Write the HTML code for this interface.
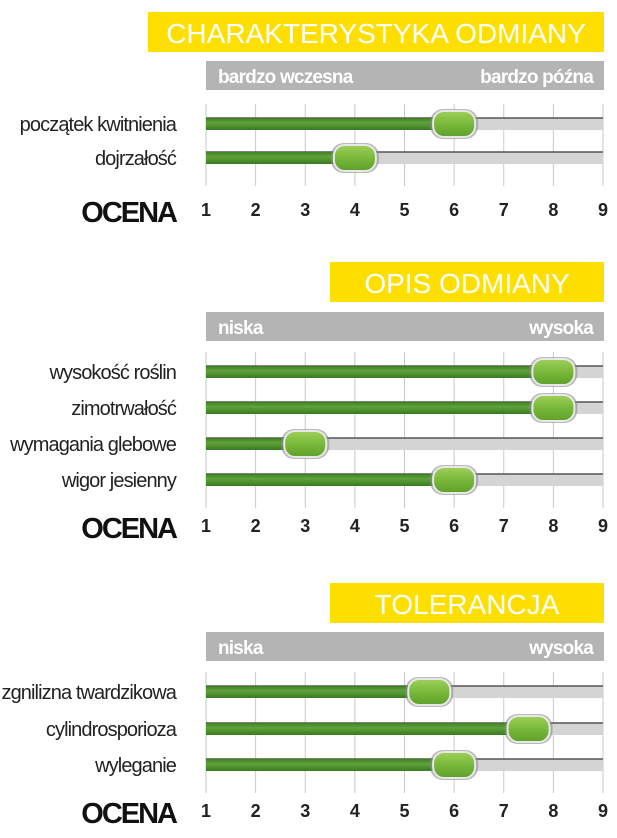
<!DOCTYPE html>
<html><head><meta charset="utf-8">
<style>
body{margin:0;background:#fff;width:617px;height:838px;overflow:hidden;font-family:"Liberation Sans",sans-serif}
svg{display:block}
</style></head>
<body>
<svg id="chart" width="617" height="838"></svg>
<script>
const ticks=["1","2","3","4","5","6","7","8","9"];
const s1Title="CHARAKTERYSTYKA ODMIANY";
const s1Scale=["bardzo wczesna","bardzo późna"];
const s1Labels=["początek kwitnienia","dojrzałość"];
const s1Values=[6,4];
const s2Title="OPIS ODMIANY";
const s2Scale=["niska","wysoka"];
const s2Labels=["wysokość roślin","zimotrwałość","wymagania glebowe","wigor jesienny"];
const s2Values=[8,8,3,6];
const s3Title="TOLERANCJA";
const s3Scale=["niska","wysoka"];
const s3Labels=["zgnilizna twardzikowa","cylindrosporioza","wyleganie"];
const s3Values=[5.5,7.5,6];

const NS="http://www.w3.org/2000/svg";
const svg=document.getElementById('chart');
const defs=document.createElementNS(NS,'defs');
defs.innerHTML='<linearGradient id="gk" x1="0" y1="0" x2="0" y2="1"><stop offset="0" stop-color="#9fd05a"/><stop offset="0.5" stop-color="#78b83a"/><stop offset="1" stop-color="#5e9f2a"/></linearGradient><linearGradient id="gg" x1="0" y1="0" x2="0" y2="1"><stop offset="0" stop-color="#3f7f22"/><stop offset="0.4" stop-color="#5fa33a"/><stop offset="1" stop-color="#3a7a20"/></linearGradient>';
svg.appendChild(defs);
const x0=206,x1=603;
function xs(v){return x0+(v-1)*(x1-x0)/8;}
function mk(tag,attrs,parent){const e=document.createElementNS(NS,tag);for(const k in attrs)e.setAttribute(k,attrs[k]);(parent||svg).appendChild(e);return e;}
function txt(s,attrs,parent){const e=mk('text',attrs,parent);e.textContent=s;return e;}

function section(title,tx,ty,scale,gy,labels,values,rows,tickY){
  const g=mk('g',{});
  
  
  const tb=mk('rect',{x:tx,y:ty,width:604-tx,height:40,fill:'#ffdf00'},g);
  
  
  const tt=txt(title,{x:(tx+604)/2,y:ty+31,'text-anchor':'middle',fill:'#fff','font-size':28},g);
  
  
  const sb=mk('rect',{x:206,y:gy,width:398,height:29,fill:'#b4b4b4'},g);
  
  
  const sl=txt(scale[0],{x:218,y:gy+22,fill:'#fff','font-size':19,'font-weight':'bold',style:'letter-spacing:-0.8px'},g);
  
  
  const sr=txt(scale[1],{x:593,y:gy+22,fill:'#fff','font-size':19,'font-weight':'bold','text-anchor':'end',style:'letter-spacing:-0.8px'},g);
  
  
  const top=rows[0]-20,bot=rows[rows.length-1]+28;
  ticks.forEach((t,i)=>{
    const x=xs(i+1);
    const gl=mk('line',{x1:x,x2:x,y1:top,y2:bot,stroke:'#c8c8c8','stroke-width':1},g);
    
    
    const tl=txt(t,{x:x,y:tickY+1,'text-anchor':'middle','font-size':18,'font-weight':'bold',fill:'#222'},g);
    
    
  });
  const oc=txt('OCENA',{x:176,y:tickY+7,'text-anchor':'end','font-size':29,'font-weight':'bold',fill:'#111',style:'letter-spacing:-2px'},g);
  
  
  labels.forEach((l,i)=>{
    const y=rows[i],v=values[i],kx=xs(v);
    const lb=txt(l,{x:176,y:y+7,'text-anchor':'end','font-size':20,fill:'#222',style:'letter-spacing:-0.9px'},g);
    
    
    const tr=mk('rect',{x:x0,y:y-6,width:x1-x0,height:12,fill:'#d4d4d4'},g);
    
    
    const tl=mk('line',{x1:x0,x2:x1,y1:y-6,y2:y-6,stroke:'#555','stroke-width':1.5},g);
    
    
    const gr=mk('rect',{x:x0,y:y-6,width:kx-x0,height:12,fill:'url(#gg)'},g);
    
    
    const ks=mk('rect',{x:kx-24,y:y-15,width:48,height:30,rx:13,fill:'#8a8a8a',opacity:0.6},g);
    
    
    const kn=mk('rect',{x:kx-21,y:y-13,width:42,height:26,rx:11,fill:'url(#gk)',stroke:'#e8e8e8','stroke-width':2},g);
    
    
  });
}
section(s1Title,148,12,s1Scale,61,s1Labels,s1Values,[124,158],215);
section(s2Title,330,262,s2Scale,312,s2Labels,s2Values,[372,408,444,480],531);
section(s3Title,330,583,s3Scale,632,s3Labels,s3Values,[692,729,765],816);
</script>
</body></html>
